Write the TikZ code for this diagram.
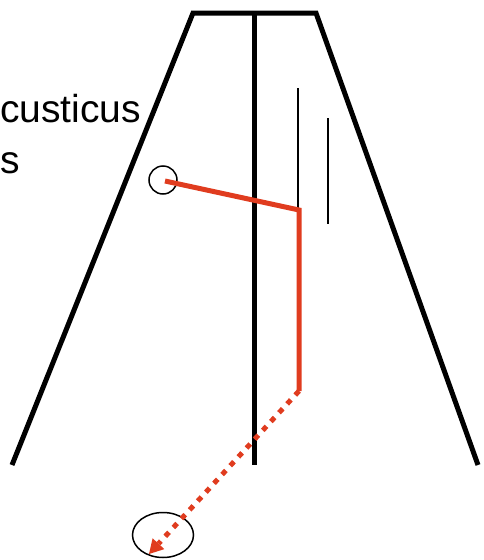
\documentclass[tikz,border=0pt]{standalone}
\usepackage{fontspec}
\setmainfont{Liberation Sans}
\usetikzlibrary{arrows.meta,shapes.geometric}
\definecolor{nred}{HTML}{E03C1F}
\begin{document}
\begin{tikzpicture}[x=1pt,y=-1pt,
  thickline/.style={line width=5pt,black},
  thinline/.style={line width=1.5pt,black},
  redline/.style={line width=5pt,nred},
  reddots/.style={line width=5pt,nred,dash pattern=on 5.5pt off 6.5pt},
  lbl/.style={inner sep=0pt,anchor=base west,font=\fontsize{39}{45}\selectfont}]
\useasboundingbox (0,0) rectangle (483,560);
\coordinate (tl) at (193,13);
\coordinate (tr) at (316,13);
\coordinate (tm) at (254,13);
\coordinate (bl) at (12,465);
\coordinate (br) at (478,465);
\coordinate (bm) at (254,465);
\draw[thickline] (bl) -- (tl) -- (tr) -- (br);
\draw[thickline] (tm) -- (bm);
\coordinate (a1) at (298,88);
\coordinate (a2) at (298,210);
\coordinate (b1) at (328,118);
\coordinate (b2) at (328,224);
\draw[thinline] (a1) -- (a2);
\draw[thinline] (b1) -- (b2);
\node[draw,circle,line width=1.5pt,minimum size=28pt,inner sep=0pt] (c1) at (163,180) {};
\coordinate (r0) at (165,181);
\coordinate (r1) at (299,210);
\coordinate (r2) at (299,391);
\draw[redline,line join=miter] (r0) -- (r1) -- (r2);
\node[draw,ellipse,line width=1.5pt,minimum width=61pt,minimum height=45pt,inner sep=0pt] (e1) at (163,535) {};
\coordinate (tip) at (149,554);
\draw[reddots,-{Triangle[length=14pt,width=16pt,line width=0pt]}] (r2) -- (tip);
\node[lbl] (t1) at (0,122) {custicus};
\node[lbl] (t2) at (0,173) {s};
\end{tikzpicture}
\end{document}
